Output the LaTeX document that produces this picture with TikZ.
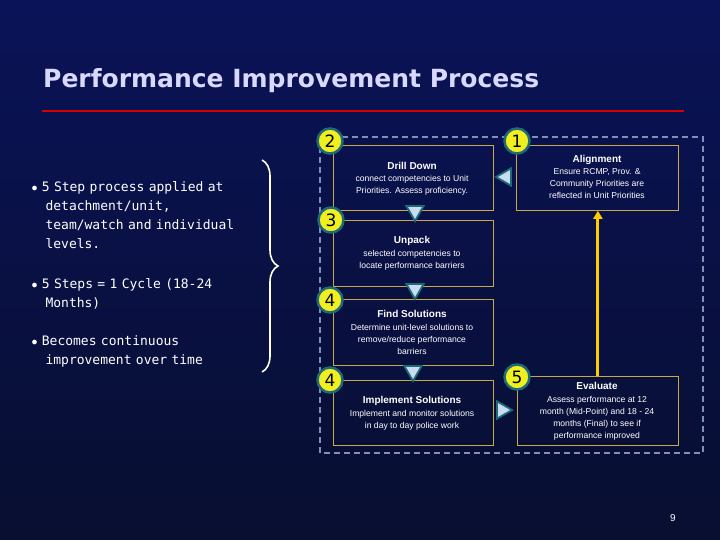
\documentclass[tikz,border=0pt]{standalone}
\usepackage{fontspec}
\setmainfont{Liberation Sans}
\newfontfamily\monof{DejaVu Sans Mono}
\newfontfamily\titf{DejaVu Sans}
\usetikzlibrary{shapes.geometric,decorations.pathreplacing,arrows.meta}
\definecolor{bgc}{HTML}{0B1545}
\definecolor{gold}{HTML}{C8A848}
\definecolor{tealc}{HTML}{1E6A78}
\definecolor{circ}{HTML}{F0F020}
\definecolor{tri}{HTML}{C8DDF0}
\definecolor{dashc}{HTML}{8090B8}
\begin{document}
\begin{tikzpicture}[x=1pt,y=-1pt,
 box/.style={draw=gold,line width=0.8pt,minimum width=160pt,minimum height=65pt,anchor=north west,inner sep=0pt},
 num/.style={circle,fill=circ,draw=tealc,line width=2.5pt,minimum size=25pt,inner sep=0pt,font=\titf\fontsize{17}{17}\selectfont},
 trid/.style={regular polygon,regular polygon sides=3,fill=tri,draw=tealc,line width=1.8pt,minimum size=20pt,inner sep=0pt},
 ttl/.style={font=\bfseries\fontsize{10}{11}\selectfont,text=white},
 txt/.style={font=\fontsize{8.6}{12}\selectfont,text=white,align=center},
 bul/.style={font=\monof\fontsize{13}{19}\selectfont,text=white,align=left,anchor=north west,text width=240pt}]
\shade[top color=bgc!90!blue,bottom color=bgc!70!black] (0,0) rectangle (720,540);
\useasboundingbox (0,0) rectangle (720,540);
\node[anchor=west,text=white!85!blue,font=\titf\bfseries\fontsize{25}{25}\selectfont,inner sep=0pt] (title) at (43,81) {Performance Improvement Process};
\draw[red!85!black,line width=2.2pt] (42,111) -- (684,111);
\draw[dashc,line width=1.8pt,dash pattern=on 6pt off 4pt] (320,137) rectangle (703,453);
\node[box] (b2) at (333,145) {};
\node[box,minimum width=162pt] (b1) at (516,145) {};
\node[box,minimum height=66pt] (b3) at (333,220) {};
\node[box,minimum height=66pt] (b4) at (333,299) {};
\node[box] (b5) at (333,380) {};
\node[box,minimum width=161pt,minimum height=69pt] (b6) at (517,376) {};
\node[ttl] at (412,166) {Drill Down};
\node[txt] at (412,185) {connect competencies to Unit\\Priorities. Assess proficiency.};
\node[ttl] at (597,160) {Alignment};
\node[txt] at (597,184) {Ensure RCMP, Prov. \&\\Community Priorities are\\reflected in Unit Priorities};
\node[ttl] at (412,241) {Unpack};
\node[txt] at (412,260) {selected  competencies to\\locate performance barriers};
\node[ttl] at (412,314) {Find Solutions};
\node[txt] at (412,339) {Determine unit-level solutions to\\remove/reduce performance\\barriers};
\node[ttl] at (412,401) {Implement Solutions};
\node[txt] at (412,420) {Implement and monitor solutions\\in day to day police work};
\node[ttl] at (597,386) {Evaluate};
\node[txt] at (597,418) {Assess performance at 12\\month (Mid-Point) and 18 - 24\\months (Final) to see if\\performance improved};
\draw[-{Triangle[length=8pt,width=9pt]},draw=orange!40!yellow,fill=orange!40!yellow,line width=3pt] (b6.north) -- (b6.north |- b1.south);
\node[trid,shape border rotate=90] (t1) at (506,177) {};
\node[trid,shape border rotate=180] (t2) at (415,211) {};
\node[trid,shape border rotate=180] (t3) at (415,289) {};
\node[trid,shape border rotate=180] (t4) at (413,371) {};
\node[trid,shape border rotate=-90] (t5) at (502,410) {};
\node[num] (n2) at (330,141) {2};
\node[num] (n1) at (517,141) {1};
\node[num] (n3) at (331,220) {3};
\node[num] (n4) at (330,300) {4};
\node[num] (n4b) at (330,380) {4};
\node[num] (n5) at (517,377) {5};
\node[bul] (p1) at (28,178) {$\bullet$\ 5 Step process applied at\\\hspace*{14pt}detachment/unit,\\\hspace*{14pt}team/watch and individual\\\hspace*{14pt}levels.};
\node[bul] (p2) at (28,275) {$\bullet$\ 5 Steps = 1 Cycle (18-24\\\hspace*{14pt}Months)};
\node[bul] (p3) at (28,332) {$\bullet$\ Becomes continuous\\\hspace*{14pt}improvement over time};
\draw[decorate,decoration={brace,amplitude=16pt},white!90!yellow,line width=1.6pt] (262,160) -- (262,372);
\node[text=white,font=\fontsize{10}{10}\selectfont] (pg) at (673,518) {9};
\end{tikzpicture}
\end{document}
